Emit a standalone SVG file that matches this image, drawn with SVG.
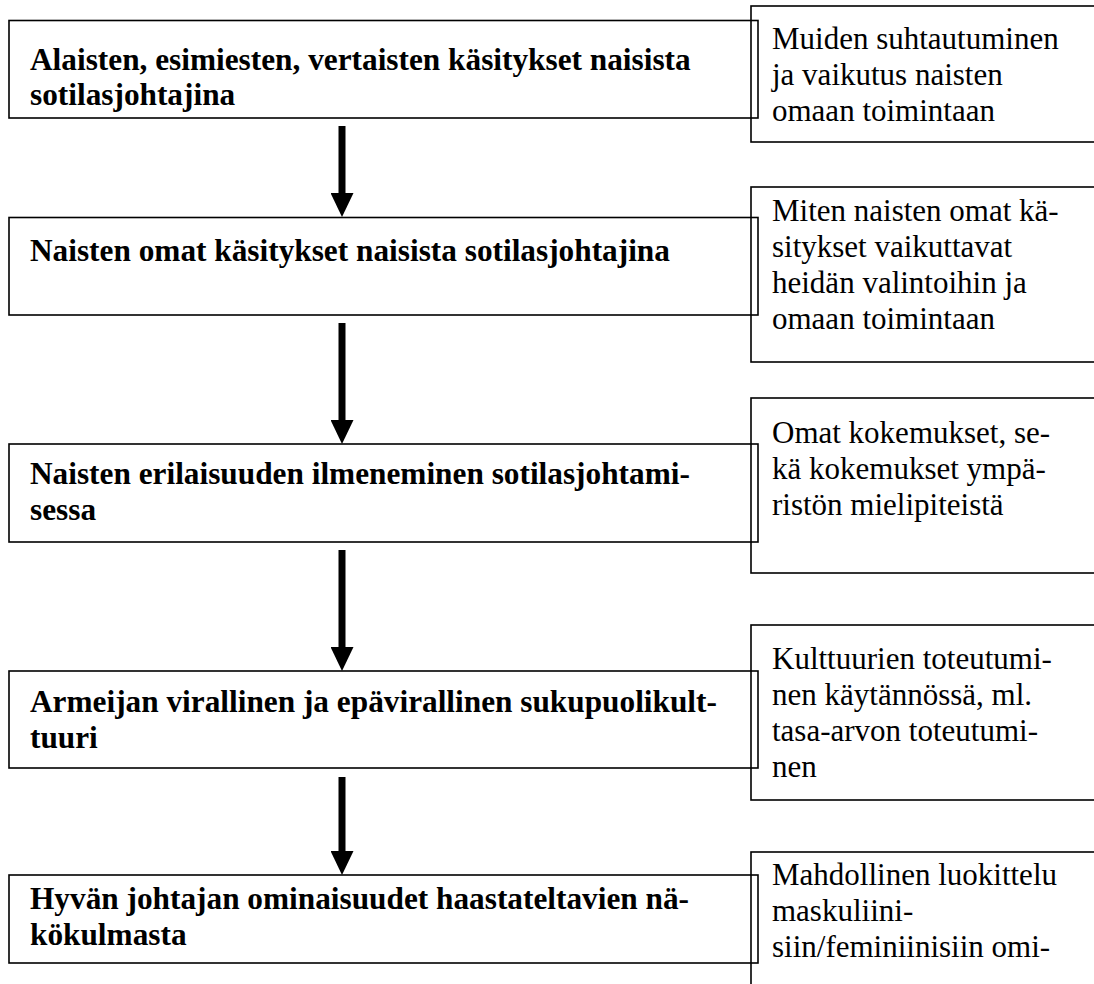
<svg xmlns="http://www.w3.org/2000/svg" width="1094" height="984" viewBox="0 0 1094 984">
<style>
.box{fill:none;stroke:#000;stroke-width:1.6}
.b{font-family:"Liberation Serif","Times New Roman",serif;font-weight:bold;font-size:31.3px;fill:#000}
.r{font-family:"Liberation Serif","Times New Roman",serif;font-size:31px;fill:#000}
.arrow{stroke:#000;stroke-width:7;fill:none;marker-end:url(#head)}
</style>
<defs>
<marker id="head" viewBox="0 0 24 23" refX="0" refY="11.5" markerWidth="24" markerHeight="23" markerUnits="userSpaceOnUse" orient="auto">
<path d="M0,0 L24,11.5 L0,23 Z" fill="#000"/>
</marker>
</defs>
<rect width="1094" height="984" fill="#fff"/>
<g id="connectors">
<line class="arrow" x1="342" y1="126" x2="342" y2="193"/>
<line class="arrow" x1="342" y1="323" x2="342" y2="420"/>
<line class="arrow" x1="342" y1="550" x2="342" y2="647"/>
<line class="arrow" x1="342" y1="777" x2="342" y2="851"/>
</g>
<g id="node1">
<rect class="box" x="9" y="20.5" width="749" height="97.5"/>
<text class="b" x="30" y="70">Alaisten, esimiesten, vertaisten käsitykset naisista</text>
<text class="b" x="30" y="105">sotilasjohtajina</text>
</g>
<g id="note1">
<rect class="box" x="751" y="6" width="360" height="136"/>
<text class="r" x="772" y="49">Muiden suhtautuminen</text>
<text class="r" x="772" y="85">ja vaikutus naisten</text>
<text class="r" x="772" y="121">omaan toimintaan</text>
</g>
<g id="node2">
<rect class="box" x="9" y="217.5" width="749" height="97.5"/>
<text class="b" x="30" y="261">Naisten omat käsitykset naisista sotilasjohtajina</text>
</g>
<g id="note2">
<rect class="box" x="751" y="187" width="360" height="175"/>
<text class="r" x="772" y="221">Miten naisten omat kä-</text>
<text class="r" x="772" y="257">sitykset vaikuttavat</text>
<text class="r" x="772" y="293">heidän valintoihin ja</text>
<text class="r" x="772" y="329">omaan toimintaan</text>
</g>
<g id="node3">
<rect class="box" x="9" y="444" width="749" height="98"/>
<text class="b" x="30" y="484">Naisten erilaisuuden ilmeneminen sotilasjohtami-</text>
<text class="b" x="30" y="520">sessa</text>
</g>
<g id="note3">
<rect class="box" x="751" y="398" width="360" height="175"/>
<text class="r" x="772" y="443">Omat kokemukset, se-</text>
<text class="r" x="772" y="479">kä kokemukset ympä-</text>
<text class="r" x="772" y="515">ristön mielipiteistä</text>
</g>
<g id="node4">
<rect class="box" x="9" y="671" width="749" height="97"/>
<text class="b" x="30" y="712">Armeijan virallinen ja epävirallinen sukupuolikult-</text>
<text class="b" x="30" y="748">tuuri</text>
</g>
<g id="note4">
<rect class="box" x="751" y="625" width="360" height="175"/>
<text class="r" x="772" y="669">Kulttuurien toteutumi-</text>
<text class="r" x="772" y="705">nen käytännössä, ml.</text>
<text class="r" x="772" y="741">tasa-arvon toteutumi-</text>
<text class="r" x="772" y="777">nen</text>
</g>
<g id="node5">
<rect class="box" x="9" y="875" width="749" height="88"/>
<text class="b" x="30" y="909">Hyvän johtajan ominaisuudet haastateltavien nä-</text>
<text class="b" x="30" y="945">kökulmasta</text>
</g>
<g id="note5">
<rect class="box" x="751" y="852" width="360" height="150"/>
<text class="r" x="772" y="885">Mahdollinen luokittelu</text>
<text class="r" x="772" y="921">maskuliini-</text>
<text class="r" x="772" y="957">siin/feminiinisiin omi-</text>
</g>
</svg>
